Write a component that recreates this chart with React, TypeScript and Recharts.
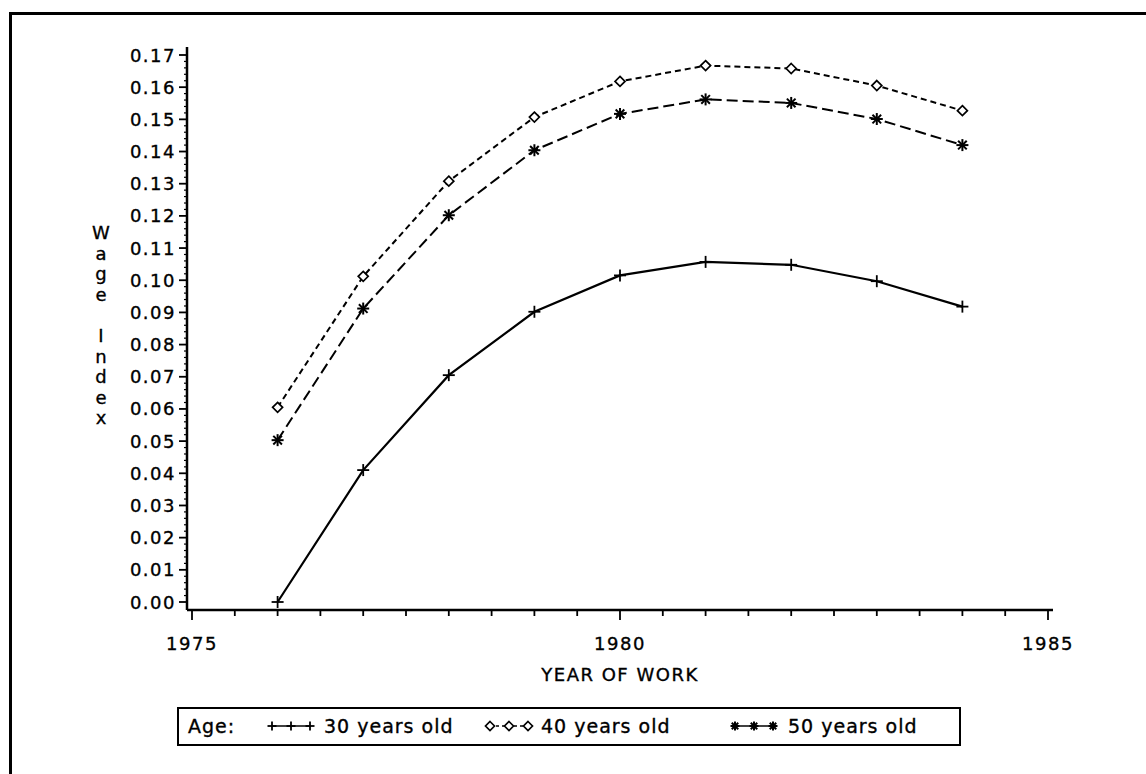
import { Line, LineChart, XAxis, YAxis } from "recharts";

const years = [1976, 1977, 1978, 1979, 1980, 1981, 1982, 1983, 1984];
const age30 = [0.0, 0.041, 0.0705, 0.0902, 0.1015, 0.1057, 0.1048, 0.0997, 0.0918];
const age40 = [0.0605, 0.1012, 0.1308, 0.1507, 0.1618, 0.1667, 0.1658, 0.1605, 0.1527];
const age50 = [0.0503, 0.0912, 0.1202, 0.1404, 0.1517, 0.1562, 0.1551, 0.1501, 0.142];

const yTickLabels = [
  "0.00", "0.01", "0.02", "0.03", "0.04", "0.05", "0.06", "0.07", "0.08",
  "0.09", "0.10", "0.11", "0.12", "0.13", "0.14", "0.15", "0.16", "0.17",
];
const xTickLabels = ["1975", "1980", "1985"];

const seriesNames = ["30 years old", "40 years old", "50 years old"];

const data = years.map((year, i) => ({
  year,
  a30: age30[i],
  a40: age40[i],
  a50: age50[i],
}));

// minor ticks: 5 per 0.01 on y, every half year on x
const yTicks = Array.from({ length: 86 }, (_, i) => i / 500);
const xTicks = Array.from({ length: 21 }, (_, i) => 1975 + i / 2);

const FONT = "'DejaVu Sans', sans-serif";

function YTick(props: any) {
  const { x, y, payload } = props;
  const n = Math.round(payload.value * 500);
  if (n % 5 !== 0) {
    return <line x1={x - 3} x2={x} y1={y} y2={y} stroke="#000" strokeWidth={1.2} />;
  }
  return (
    <g>
      <line x1={x - 8} x2={x} y1={y} y2={y} stroke="#000" strokeWidth={1.8} />
      <text x={x - 11} y={y} dy={6.5} textAnchor="end" fontFamily={FONT} fontSize={18} letterSpacing={1.5} fill="#000" stroke="#000" strokeWidth={0.35}>
        {yTickLabels[n / 5]}
      </text>
    </g>
  );
}

function XTick(props: any) {
  const { x, y, payload } = props;
  const label = xTickLabels.find((t) => Number(t) === payload.value);
  return (
    <g>
      <line x1={x} x2={x} y1={y} y2={y + (label ? 10 : 6)} stroke="#000" strokeWidth={1.8} />
      {label && (
        <text x={x} y={y + 40} textAnchor="middle" fontFamily={FONT} fontSize={18} letterSpacing={1.5} fill="#000" stroke="#000" strokeWidth={0.35}>
          {label}
        </text>
      )}
    </g>
  );
}

function YLabel() {
  const letters = ["W", "a", "g", "e", "", "I", "n", "d", "e", "x"];
  return (
    <g>
      {letters.map((c, i) => (
        <text key={i} x={101} y={239 + i * 20.6} textAnchor="middle" fontFamily={FONT} fontSize={18} fill="#000" stroke="#000" strokeWidth={0.35}>
          {c}
        </text>
      ))}
    </g>
  );
}

function Plus({ cx, cy, s = 6 }: any) {
  return (
    <g stroke="#000" strokeWidth={1.8}>
      <line x1={cx - s} x2={cx + s} y1={cy} y2={cy} />
      <line x1={cx} x2={cx} y1={cy - s} y2={cy + s} />
    </g>
  );
}

function Diamond({ cx, cy, s = 5 }: any) {
  return (
    <path
      d={`M${cx},${cy - s}L${cx + s},${cy}L${cx},${cy + s}L${cx - s},${cy}Z`}
      fill="#fff"
      stroke="#000"
      strokeWidth={1.7}
    />
  );
}

function Star({ cx, cy, s = 6 }: any) {
  const d = s * 0.72;
  return (
    <g stroke="#000" strokeWidth={2}>
      <line x1={cx - s} x2={cx + s} y1={cy} y2={cy} />
      <line x1={cx} x2={cx} y1={cy - s} y2={cy + s} />
      <line x1={cx - d} x2={cx + d} y1={cy - d} y2={cy + d} />
      <line x1={cx - d} x2={cx + d} y1={cy + d} y2={cy - d} />
    </g>
  );
}

function LegendBox() {
  const sample = (x0: number, Mark: any, dash?: string) => (
    <g>
      <line x1={x0} x2={x0 + 38} y1={19} y2={19} stroke="#000" strokeWidth={1.4} strokeDasharray={dash} />
      <Mark cx={x0} cy={19} s={4.5} />
      <Mark cx={x0 + 19} cy={19} s={4.5} />
      <Mark cx={x0 + 38} cy={19} s={4.5} />
    </g>
  );
  return (
    <svg width={786} height={40} style={{ position: "absolute", left: 177, top: 707 }}>
      <rect x={1} y={1} width={782} height={37} fill="#fff" stroke="#000" strokeWidth={2} />
      <g fontFamily={FONT} fontSize={19} fill="#000" stroke="#000" strokeWidth={0.35} letterSpacing={1}>
        <text x={11} y={26}>Age:</text>
        {sample(95, Plus)}
        <text x={147} y={26}>{seriesNames[0]}</text>
        {sample(313, Diamond, "3 3")}
        <text x={364} y={26}>{seriesNames[1]}</text>
        {sample(558, Star)}
        <text x={611} y={26}>{seriesNames[2]}</text>
      </g>
    </svg>
  );
}

export default function App() {
  return (
    <div
      style={{
        position: "absolute",
        left: 0,
        top: 0,
        width: 1146,
        height: 774,
        background: "#fff",
        overflow: "hidden",
      }}
    >
      <div
        style={{
          position: "absolute",
          left: 9,
          top: 12,
          width: 1200,
          height: 800,
          borderLeft: "3px solid #000",
          borderTop: "3px solid #000",
        }}
      />
      <LineChart
        width={1146}
        height={774}
        data={data}
        margin={{ top: 47, right: 93, bottom: 0, left: 0 }}
        style={{ position: "absolute", left: 0, top: 0 }}
      >
        <XAxis
          dataKey="year"
          type="number"
          domain={[1975, 1985]}
          ticks={xTicks}
          interval={0}
          tick={<XTick />}
          tickLine={false}
          tickSize={0}
          tickMargin={0}
          height={164}
          padding={{ left: 5, right: 5 }}
          axisLine={{ stroke: "#000", strokeWidth: 2.5 }}
          label={{
            value: "YEAR OF WORK",
            position: "insideTop",
            offset: 58,
            fill: "#000",
            stroke: "#000",
            strokeWidth: 0.35,
            fontSize: 18,
            fontFamily: FONT,
            letterSpacing: 1.5,
          }}
        />
        <YAxis
          type="number"
          domain={[0, 0.17]}
          ticks={yTicks}
          interval={0}
          tick={<YTick />}
          tickLine={false}
          tickSize={0}
          tickMargin={0}
          width={187}
          padding={{ top: 8, bottom: 8 }}
          axisLine={{ stroke: "#000", strokeWidth: 2.5 }}
          label={<YLabel />}
        />
        <Line
          dataKey="a30"
          name={seriesNames[0]}
          stroke="#000"
          strokeWidth={2.2}
          isAnimationActive={false}
          dot={(p: any) => <Plus key={p.index} cx={p.cx} cy={p.cy} />}
        />
        <Line
          dataKey="a40"
          name={seriesNames[1]}
          stroke="#000"
          strokeWidth={2}
          strokeDasharray="6 4"
          isAnimationActive={false}
          dot={(p: any) => <Diamond key={p.index} cx={p.cx} cy={p.cy} />}
        />
        <Line
          dataKey="a50"
          name={seriesNames[2]}
          stroke="#000"
          strokeWidth={2}
          strokeDasharray="11 5"
          isAnimationActive={false}
          dot={(p: any) => <Star key={p.index} cx={p.cx} cy={p.cy} />}
        />
      </LineChart>
      <LegendBox />
    </div>
  );
}
